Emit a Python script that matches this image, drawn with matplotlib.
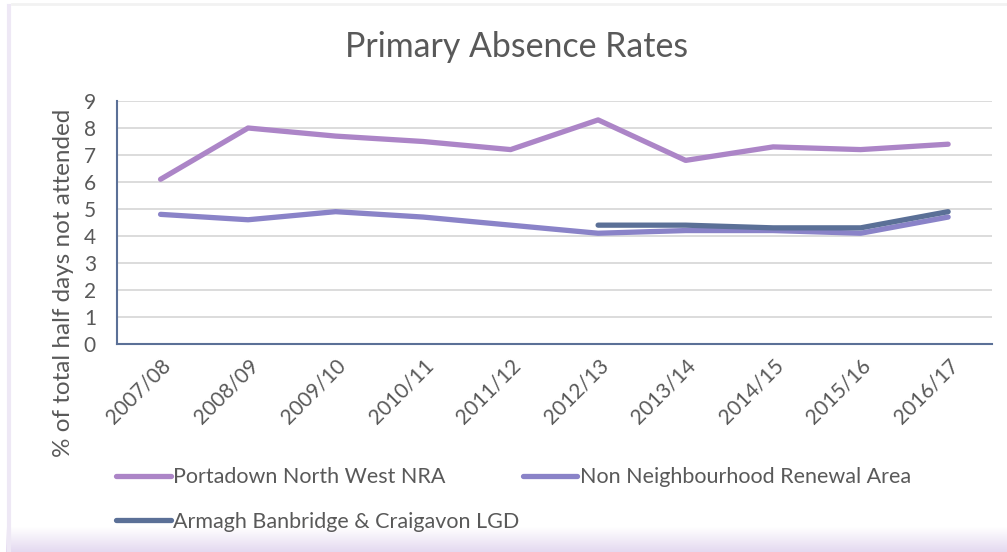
import numpy as np
import matplotlib
matplotlib.use("Agg")
import matplotlib.pyplot as plt

years = ["2007/08", "2008/09", "2009/10", "2010/11", "2011/12",
         "2012/13", "2013/14", "2014/15", "2015/16", "2016/17"]
portadown = [6.1, 8.0, 7.7, 7.5, 7.2, 8.3, 6.8, 7.3, 7.2, 7.4]
non_nra = [4.8, 4.6, 4.9, 4.7, 4.4, 4.1, 4.2, 4.2, 4.1, 4.7]
lgd = [np.nan, np.nan, np.nan, np.nan, np.nan, 4.4, 4.4, 4.3, 4.3, 4.9]

series_names = ["Portadown North West NRA", "Non Neighbourhood Renewal Area",
                "Armagh Banbridge & Craigavon LGD"]
colors = ["#AC85C7", "#8A83C8", "#5B7097"]

plt.rcParams["font.family"] = ["Lato", "DejaVu Sans"]
text_col = "#595959"

fig = plt.figure(figsize=(10.07, 5.52), dpi=100)

# background frame: light lavender strip at bottom and left edge
bg = fig.add_axes([0, 0, 1, 1], zorder=-10)
bg.set_axis_off()
grad = np.linspace(0, 1, 100).reshape(-1, 1)
bg.imshow(grad, extent=[0.006, 1, 0, 0.045], aspect="auto",
          cmap=matplotlib.colors.LinearSegmentedColormap.from_list(
              "g", ["#E4D9F0", "#FFFFFF"]), origin="lower")
bg.plot([0.009, 0.009], [0.0, 0.99], color="#EEE8F5", lw=3)
bg.plot([0.012, 1.0], [0.992, 0.992], color="#F2F2F2", lw=2)
bg.set_xlim(0, 1)
bg.set_ylim(0, 1)

ax = fig.add_axes([0.116, 0.377, 0.869, 0.44])
x = np.arange(len(years))
for vals, name, c in zip([portadown, non_nra, lgd], series_names, colors):
    ax.plot(x, vals, color=c, lw=3.8, solid_capstyle="round",
            solid_joinstyle="round", label=name)

ax.set_xlim(-0.5, len(years) - 0.5)
ax.set_ylim(0, 9)
ax.set_yticks(range(0, 10))
ax.yaxis.grid(True, color="#D9D9D9", lw=1.3)
ax.set_axisbelow(True)
ax.set_xticks(x)
ax.set_xticklabels(years, rotation=45, ha="right", rotation_mode="anchor")
ax.tick_params(axis="both", length=0, colors=text_col, labelsize=15)
ax.tick_params(axis="x", pad=8)
ax.tick_params(axis="y", pad=15)
for s in ["top", "right"]:
    ax.spines[s].set_visible(False)
for s in ["left", "bottom"]:
    ax.spines[s].set_color("#5B7097")
    ax.spines[s].set_linewidth(1.5)

ax.set_ylabel("% of total half days not attended", fontsize=17.5,
              color=text_col)
ax.yaxis.set_label_coords(-0.049, 0.25)

fig.text(0.513, 0.915, "Primary Absence Rates", ha="center", va="center",
         fontsize=24.4, color=text_col)

# row-major order for the 2-column legend
handles, labels = ax.get_legend_handles_labels()
order = [0, 2, 1]
leg = fig.legend([handles[i] for i in order], [labels[i] for i in order],
                 loc="upper left", ncol=2,
                 bbox_to_anchor=(0.096, 0.189), frameon=False, fontsize=15.5,
                 handlelength=2.55, handletextpad=0.1, columnspacing=0.15,
                 labelspacing=1.15, labelcolor=text_col)

fig.savefig("out.png", dpi=100)
